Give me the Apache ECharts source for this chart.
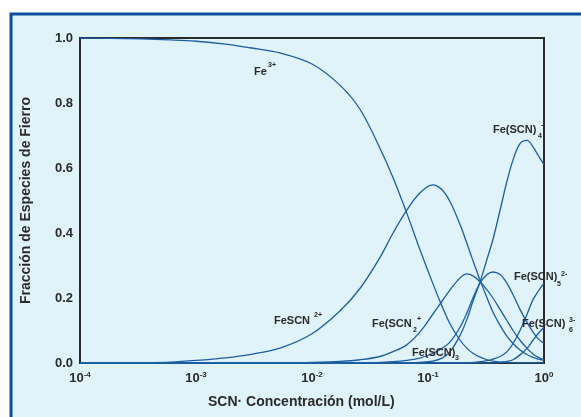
<!DOCTYPE html>
<html>
<head>
<meta charset="utf-8">
<script src="https://cdn.jsdelivr.net/npm/echarts@6/dist/echarts.min.js"></script>
<style>
  html, body { margin: 0; padding: 0; background: #ffffff; }
  #chart { width: 581px; height: 417px; }
</style>
</head>
<body>
<div id="chart"></div>
<script>
// SCN- concentration (mol/L), shared sampling grid for all species
const conc = [0.0001, 0.00018, 0.00033, 0.0006, 0.001, 0.0018, 0.0029, 0.0053, 0.01, 0.0174,
  0.026, 0.0386, 0.05, 0.065, 0.085, 0.11, 0.132, 0.155, 0.189, 0.217,
  0.244, 0.281, 0.323, 0.363, 0.418, 0.48, 0.541, 0.621, 0.714, 0.804, 0.888, 1.0];

// Fraction of each iron species at the concentrations above
const fe3 = [1.0, 0.999, 0.997, 0.994, 0.99, 0.981, 0.97, 0.954, 0.92, 0.855,
  0.78, 0.66, 0.57, 0.465, 0.35, 0.245, 0.175, 0.12, 0.07, 0.045,
  0.03, 0.018, 0.01, 0.006, 0.003, 0.002, 0.001, 0, 0, 0, 0, 0];
const feScn = [0, 0.0005, 0.001, 0.003, 0.008, 0.016, 0.026, 0.046, 0.09, 0.16,
  0.23, 0.325, 0.4, 0.468, 0.523, 0.548, 0.533, 0.496, 0.426, 0.367,
  0.315, 0.255, 0.2, 0.157, 0.116, 0.082, 0.06, 0.04, 0.026, 0.017, 0.012, 0.008];
const feScn2 = [0, 0, 0, 0, 0, 0, 0, 0.0005, 0.002, 0.005,
  0.01, 0.02, 0.035, 0.055, 0.095, 0.15, 0.19, 0.225, 0.262, 0.274,
  0.268, 0.25, 0.225, 0.2, 0.165, 0.13, 0.1, 0.07, 0.045, 0.028, 0.018, 0.01];
const feScn3 = [0, 0, 0, 0, 0, 0, 0, 0, 0, 0,
  0, 0.002, 0.004, 0.008, 0.015, 0.03, 0.045, 0.065, 0.11, 0.155,
  0.2, 0.246, 0.272, 0.28, 0.272, 0.245, 0.21, 0.165, 0.125, 0.095, 0.075, 0.06];
const feScn4 = [0, 0, 0, 0, 0, 0, 0, 0, 0, 0,
  0, 0, 0, 0, 0.002, 0.006, 0.015, 0.035, 0.085, 0.135,
  0.19, 0.25, 0.32, 0.38, 0.47, 0.56, 0.625, 0.675, 0.685, 0.665, 0.64, 0.61];
const feScn5 = [0, 0, 0, 0, 0, 0, 0, 0, 0, 0,
  0, 0, 0, 0, 0, 0, 0, 0, 0, 0,
  0.002, 0.004, 0.007, 0.012, 0.02, 0.035, 0.06, 0.1, 0.15, 0.195, 0.22, 0.246];
const feScn6 = [0, 0, 0, 0, 0, 0, 0, 0, 0, 0,
  0, 0, 0, 0, 0, 0, 0, 0, 0, 0,
  0, 0, 0, 0, 0.002, 0.005, 0.01, 0.025, 0.045, 0.07, 0.09, 0.11];

const speciesSeries = [fe3, feScn, feScn2, feScn3, feScn4, feScn5, feScn6];

const FONT = '"Liberation Sans", Arial, Helvetica, sans-serif';
const TEXT = '#2b2b2b';
const LINE = '#1c5ea6';

// species labels: main text plus small sub/superscript pieces
function piece(x, y, text, size) {
  return {
    type: 'text', x: x, y: y, silent: true, z: 20,
    style: {
      text: text, fill: TEXT, font: 'bold ' + size + 'px ' + FONT,
      align: 'left', verticalAlign: 'middle'
    }
  };
}
const MAIN = 11, SMALL = 7;
const labels = [
  piece(254, 72, 'Fe', MAIN), piece(268, 65, '3+', SMALL),
  piece(274, 321, 'FeSCN', MAIN), piece(314, 315, '2+', SMALL),
  piece(372, 324, 'Fe(SCN', MAIN), piece(413, 330, '2', SMALL), piece(417, 319, '+', SMALL),
  piece(412, 353, 'Fe(SCN)', MAIN), piece(455, 358, '3', SMALL),
  piece(493, 130, 'Fe(SCN)', MAIN), piece(538, 136, '4', SMALL), piece(541, 125, '-', SMALL),
  piece(514, 277, 'Fe(SCN)', MAIN), piece(557, 284, '5', SMALL), piece(561, 274, '2-', SMALL),
  piece(522, 324, 'Fe(SCN)', MAIN), piece(569, 330, '6', SMALL), piece(569, 320, '3-', SMALL)
];

const chart = echarts.init(document.getElementById('chart'), null, { renderer: 'canvas' });

chart.setOption({
  animation: false,
  backgroundColor: '#ffffff',
  grid: {
    left: 80, right: 37, top: 38, bottom: 54,
    show: true, borderColor: '#2a2a2a', borderWidth: 2,
    backgroundColor: 'transparent',
    containLabel: false, outerBoundsMode: 'none'
  },
  xAxis: {
    type: 'log', logBase: 10, min: 0.0001, max: 1,
    axisLine: { show: false }, axisTick: { show: false },
    splitLine: { show: false }, minorTick: { show: false },
    axisLabel: {
      margin: 8,
      formatter: function (v) {
        const e = Math.round(Math.log10(v));
        return '{b|10}{s|' + e + '}';
      },
      rich: {
        b: { fontSize: 13, fontWeight: 'bold', fontFamily: FONT, color: TEXT, lineHeight: 14 },
        s: { fontSize: 8, fontWeight: 'bold', fontFamily: FONT, color: TEXT, lineHeight: 10, verticalAlign: 'top' }
      }
    }
  },
  yAxis: {
    type: 'value', min: 0, max: 1, interval: 0.2,
    name: 'Fracción de Especies de Fierro',
    nameLocation: 'middle', nameGap: 47, nameRotate: 90,
    nameTextStyle: { fontSize: 14, fontWeight: 'bold', fontFamily: FONT, color: TEXT },
    axisLine: { show: false }, axisTick: { show: false }, splitLine: { show: false },
    axisLabel: {
      margin: 7, fontSize: 13, fontWeight: 'bold', fontFamily: FONT, color: TEXT,
      formatter: function (v) { return v.toFixed(1); }
    }
  },
  graphic: [
    {
      type: 'rect', silent: true, z: -10,
      shape: { x: 11, y: 14, width: 640, height: 460 },
      style: { fill: '#e0f2fa', stroke: '#0d4f9b', lineWidth: 3 }
    },
    {
      type: 'text', x: 208, y: 402, silent: true, z: 20,
      style: {
        text: 'SCN· Concentración (mol/L)', fill: TEXT,
        font: 'bold 14px ' + FONT, align: 'left', verticalAlign: 'middle'
      }
    }
  ].concat(labels),
  series: speciesSeries.map(function (vals) {
    return {
      type: 'line',
      showSymbol: false,
      smooth: 0.35,
      lineStyle: { color: LINE, width: 1.3 },
      data: conc.map(function (c, i) { return [c, vals[i]]; }),
      z: 5
    };
  })
});
</script>
</body>
</html>
